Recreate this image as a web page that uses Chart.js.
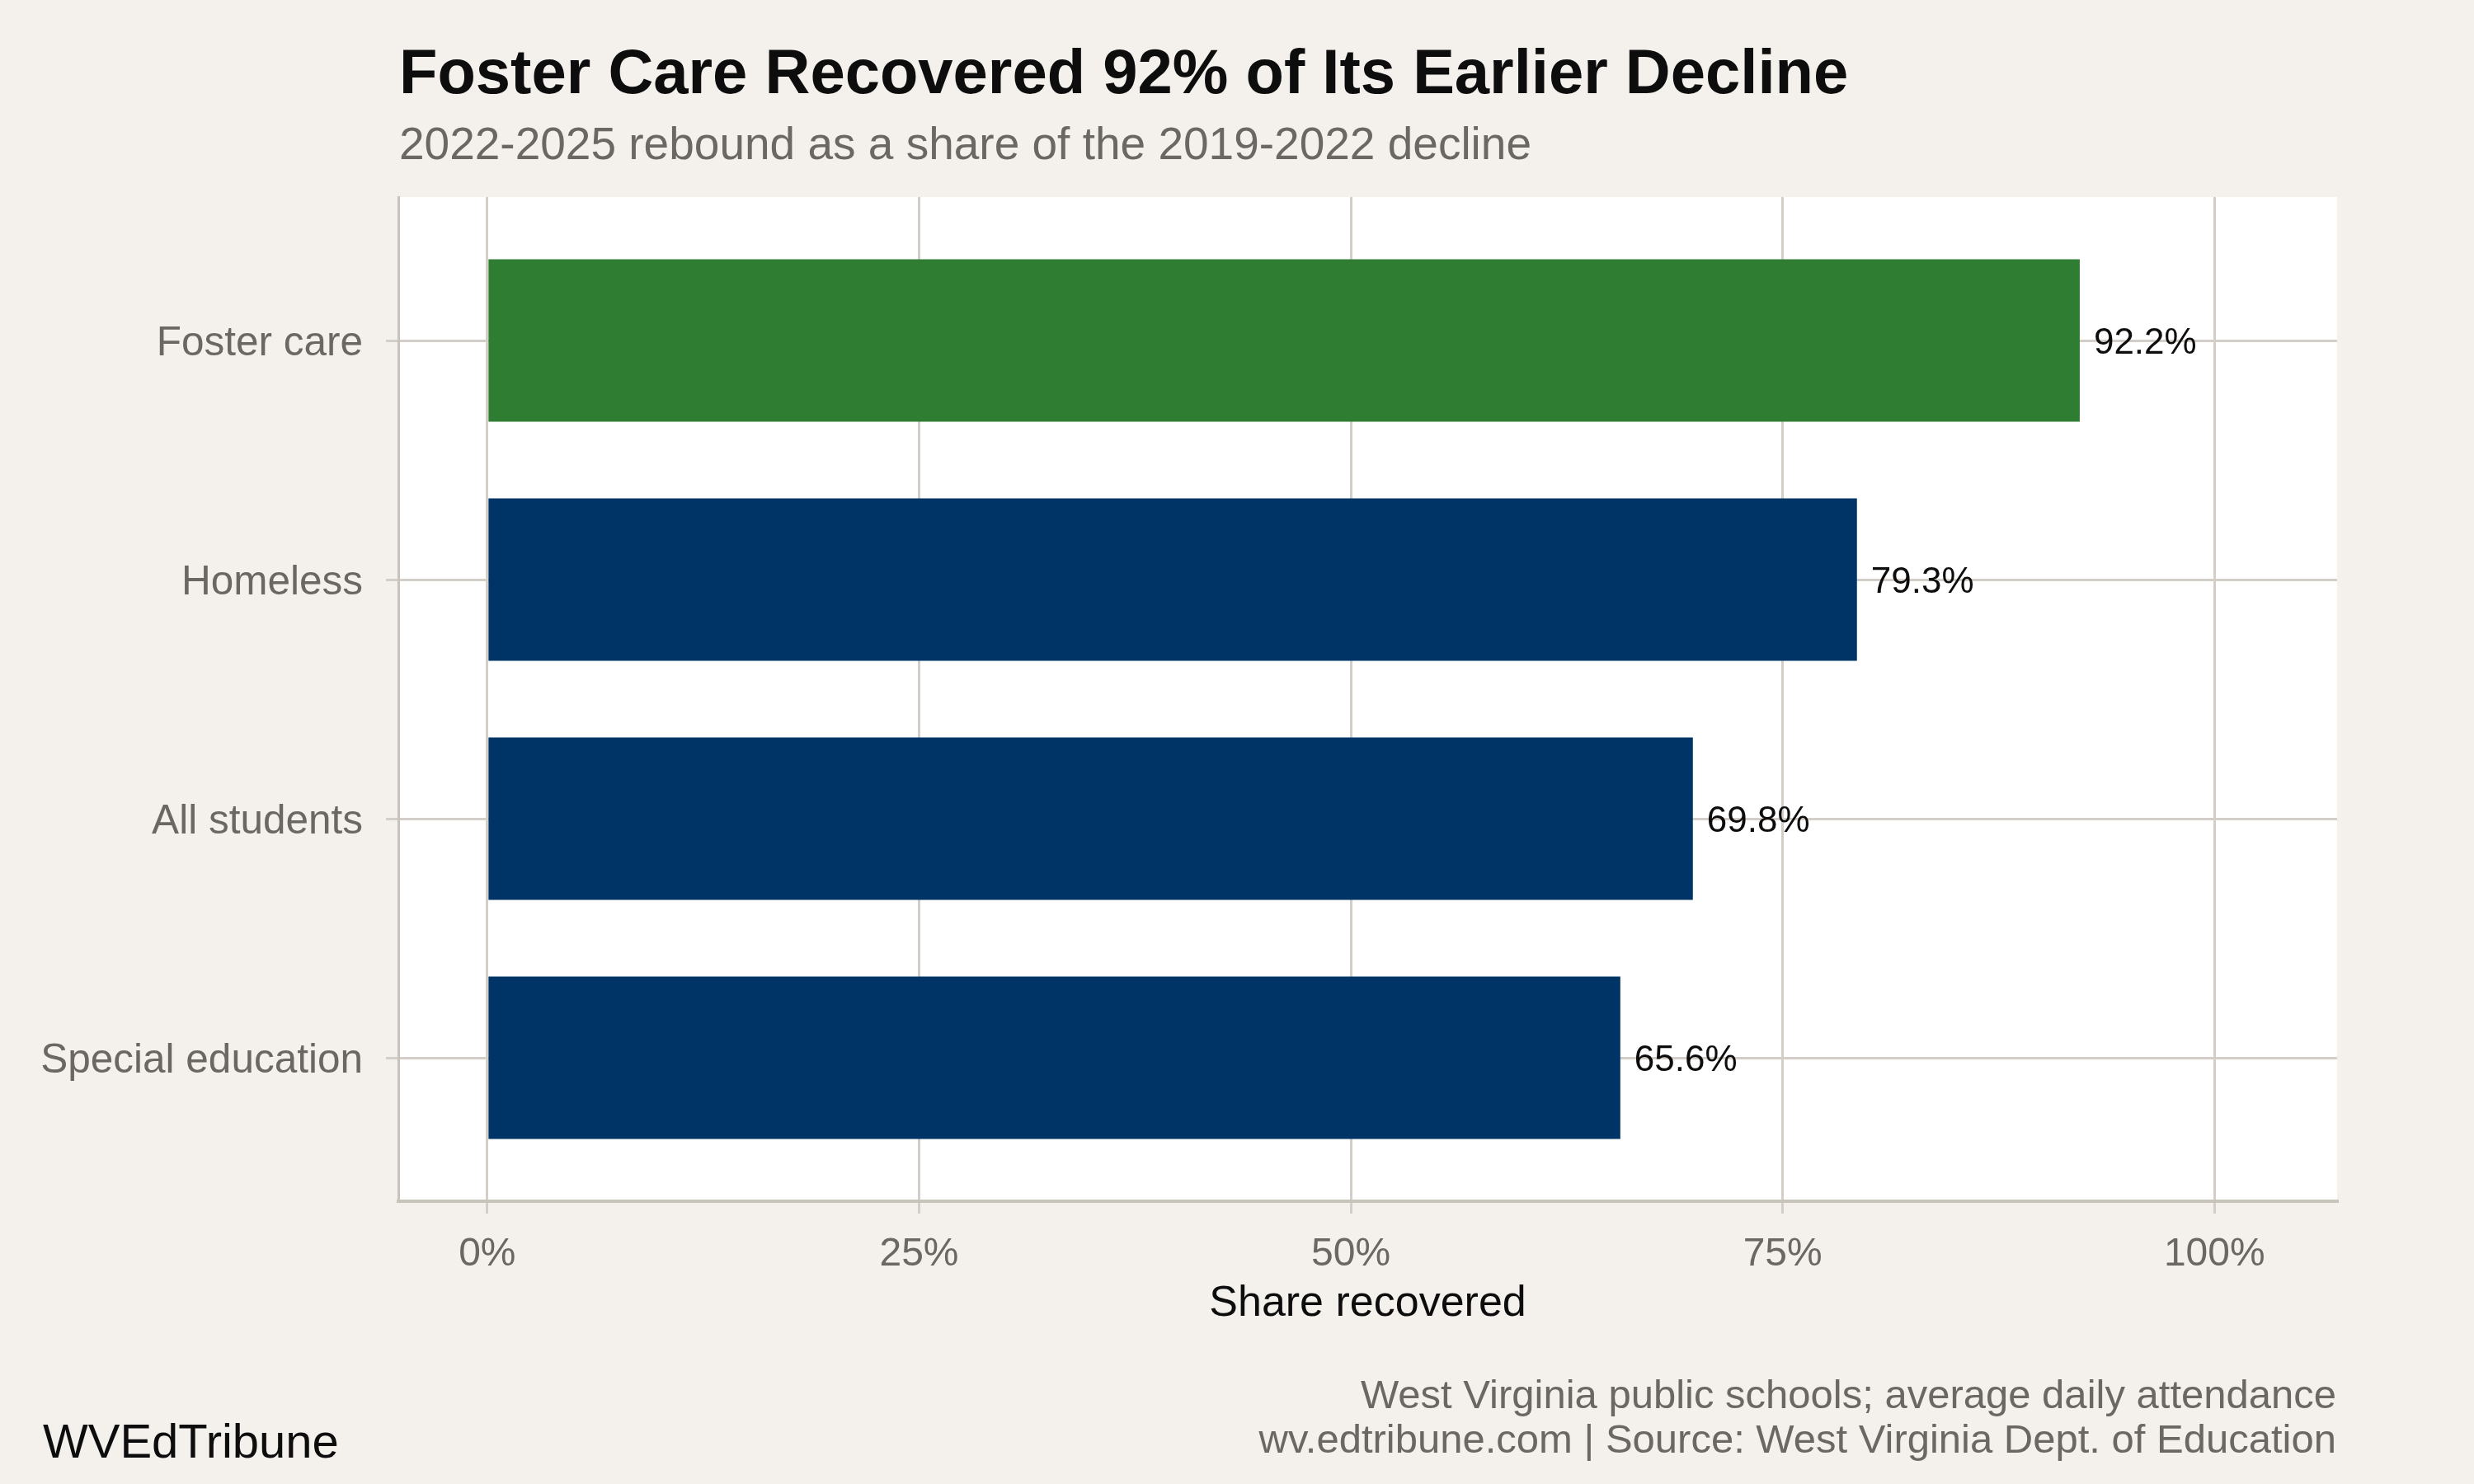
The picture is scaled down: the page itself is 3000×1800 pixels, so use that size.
<!DOCTYPE html>
<html>
<head>
<meta charset="utf-8">
<title>Foster Care Recovered 92% of Its Earlier Decline</title>
<script src="https://cdn.jsdelivr.net/npm/chart.js@4.4.1/dist/chart.umd.min.js"></script>
<style>
  html, body { margin: 0; padding: 0; background: #f4f1ec; }
  #chart { display: block; }
</style>
</head>
<body>
<canvas id="chart" width="3000" height="1800"></canvas>
<script>
// === DATA ===
const categories = ['Foster care', 'Homeless', 'All students', 'Special education'];
const shareRecovered = [92.2, 79.3, 69.8, 65.6];
const xTickValues = [0, 25, 50, 75, 100];
const highlighted = 'Foster care';

const titleText = 'Foster Care Recovered 92% of Its Earlier Decline';
const subtitleText = '2022-2025 rebound as a share of the 2019-2022 decline';
const captionLines = [
    'West Virginia public schools; average daily attendance',
    'wv.edtribune.com | Source: West Virginia Dept. of Education'
];
const brandText = 'WVEdTribune';
const xAxisTitle = 'Share recovered';

// === STYLE ===
const FONT = '"Liberation Sans", Helvetica, Arial, sans-serif';
const COLORS = {
    bg: '#f4f1ec',
    panel: '#ffffff',
    grid: '#d3cfc8',
    axis: '#c8c3bb',
    muted: '#6b6762',
    dark: '#0d0d0d',
    green: '#2e7d32',
    navy: '#003366'
};

function pct(v) {
    return v.toFixed(1) + '%';
}

// page background + white panel behind the bars
const backdrop = {
    id: 'backdrop',
    beforeDraw(chart) {
        const { ctx, chartArea: a } = chart;
        ctx.save();
        ctx.fillStyle = COLORS.bg;
        ctx.fillRect(0, 0, chart.width, chart.height);
        ctx.fillStyle = COLORS.panel;
        ctx.fillRect(a.left, a.top, a.right - a.left, a.bottom - a.top);
        ctx.restore();
    }
};

// value labels, title, subtitle, caption
const annotations = {
    id: 'annotations',
    afterDatasetsDraw(chart) {
        const { ctx } = chart;
        const meta = chart.getDatasetMeta(0);
        ctx.save();
        ctx.font = `44px ${FONT}`;
        ctx.fillStyle = COLORS.dark;
        ctx.textAlign = 'left';
        ctx.textBaseline = 'alphabetic';
        meta.data.forEach((bar, i) => {
            ctx.fillText(pct(shareRecovered[i]), bar.x + 17, bar.y + 16);
        });
        ctx.restore();
    },
    afterDraw(chart) {
        const { ctx } = chart;
        ctx.save();
        ctx.textBaseline = 'alphabetic';

        ctx.textAlign = 'left';
        ctx.fillStyle = COLORS.dark;
        ctx.font = `bold 76px ${FONT}`;
        ctx.fillText(titleText, 484, 113);

        ctx.fillStyle = COLORS.muted;
        ctx.font = `55px ${FONT}`;
        ctx.fillText(subtitleText, 484, 193);

        ctx.textAlign = 'right';
        ctx.font = `49px ${FONT}`;
        ctx.fillText(captionLines[0], 2833, 1708);
        ctx.fillText(captionLines[1], 2833, 1762);

        ctx.textAlign = 'left';
        ctx.fillStyle = COLORS.dark;
        ctx.font = `58px ${FONT}`;
        ctx.fillText(brandText, 52, 1768);
        ctx.restore();
    }
};

const ctx = document.getElementById('chart').getContext('2d');

new Chart(ctx, {
    type: 'bar',
    data: {
        datasets: [{
            data: shareRecovered.map((v, i) => ({ x: v, y: i })),
            backgroundColor: categories.map(c => c === highlighted ? COLORS.green : COLORS.navy),
            borderWidth: 0,
            categoryPercentage: 1,
            barPercentage: 0.68
        }]
    },
    options: {
        indexAxis: 'y',
        responsive: false,
        devicePixelRatio: 1,
        animation: false,
        events: [],
        layout: { padding: { top: 239, right: 166, bottom: 187, left: 0 } },
        plugins: {
            legend: { display: false },
            tooltip: { enabled: false }
        },
        scales: {
            x: {
                type: 'linear',
                min: -5.15,
                max: 107.1,
                afterBuildTicks: s => { s.ticks = xTickValues.map(v => ({ value: v })); },
                afterFit: s => { s.height = 156; },
                grid: { color: COLORS.grid, lineWidth: 3, tickLength: 15 },
                border: { color: COLORS.axis, width: 4 },
                ticks: {
                    color: COLORS.muted,
                    font: { family: FONT, size: 48 },
                    padding: 21,
                    maxRotation: 0,
                    callback: v => v + '%'
                },
                title: {
                    display: true,
                    text: xAxisTitle,
                    color: COLORS.dark,
                    font: { family: FONT, size: 52 },
                    padding: 0
                }
            },
            y: {
                type: 'linear',
                reverse: true,
                offset: false,
                min: -0.6,
                max: 3.6,
                afterBuildTicks: s => { s.ticks = categories.map((c, i) => ({ value: i })); },
                afterFit: s => { s.width = 483; },
                grid: { color: COLORS.grid, lineWidth: 3, tickLength: 15, offset: false },
                border: { color: COLORS.axis, width: 3 },
                ticks: {
                    color: COLORS.muted,
                    font: { family: FONT, size: 49.5 },
                    padding: 28,
                    labelOffset: 4,
                    callback: v => categories[v]
                }
            }
        }
    },
    plugins: [backdrop, annotations]
});
</script>
</body>
</html>
